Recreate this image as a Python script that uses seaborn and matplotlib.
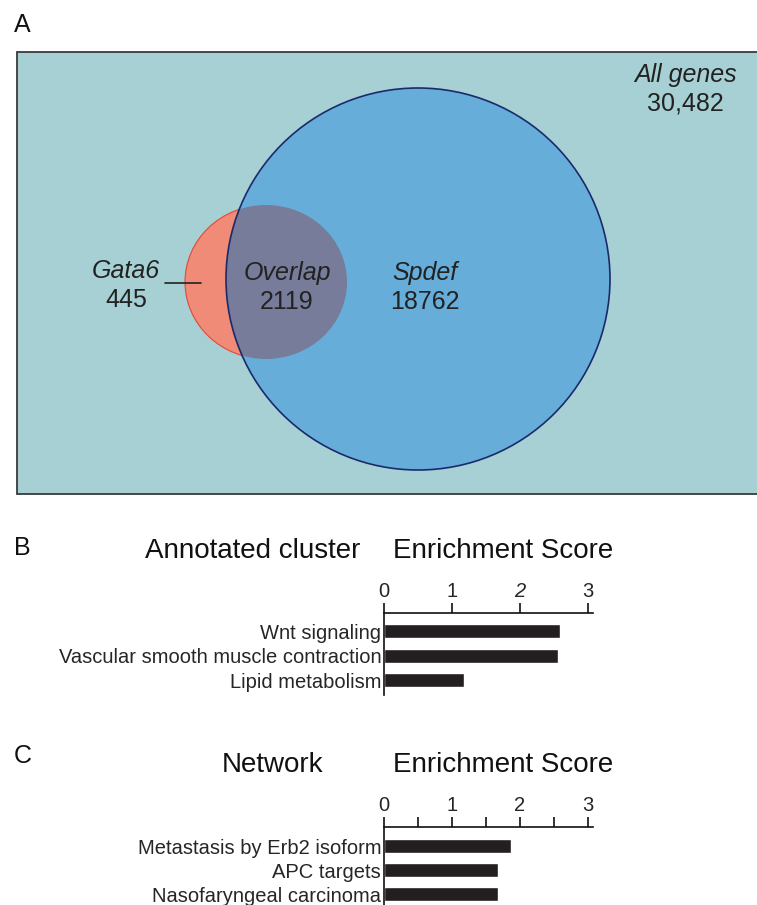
import matplotlib
matplotlib.use('Agg')
import matplotlib.pyplot as plt
import matplotlib.patches as mpatches
import seaborn as sns
import pandas as pd

sns.set_style('white')
plt.rcParams['font.family'] = ['Liberation Sans Narrow', 'Liberation Sans', 'DejaVu Sans']

# Venn counts
venn_names = ['Gata6', 'Overlap', 'Spdef']
venn_counts = [445, 2119, 18762]
all_genes = '30,482'

# Panel B
cluster_terms = ['Wnt signaling', 'Vascular smooth muscle contraction', 'Lipid metabolism']
cluster_scores = [2.59, 2.56, 1.17]

# Panel C
network_terms = ['Metastasis by Erb2 isoform', 'APC targets', 'Nasofaryngeal carcinoma']
network_scores = [1.87, 1.68, 1.68]

W, H = 757, 905
fig = plt.figure(figsize=(W / 100, H / 100), dpi=100)

# ---- Panel A: Venn diagram drawn in pixel coordinates
axA = fig.add_axes([0, 0, 1, 1])
axA.set_xlim(0, W)
axA.set_ylim(H, 0)
axA.axis('off')

axA.add_patch(mpatches.Rectangle((17, 52), 760, 442, facecolor='#a6d0d4',
                                 edgecolor='#3a3a3a', linewidth=1.3))
gata = dict(xy=(266, 282), width=162, height=154)
spdef = dict(xy=(418, 279), width=384, height=382)
axA.add_patch(mpatches.Ellipse(**gata, facecolor='#f08b77', edgecolor='#e04a3a', linewidth=0.8))
sp_fill = mpatches.Ellipse(**spdef, facecolor='#66add9', edgecolor='none')
axA.add_patch(sp_fill)
ov = mpatches.Ellipse(**gata, facecolor='#767c99', edgecolor='none')
axA.add_patch(ov)
ov.set_clip_path(sp_fill)
axA.add_patch(mpatches.Ellipse(**spdef, facecolor='none', edgecolor='#1b2a6b', linewidth=1.2))

vfs = 18
axA.text(686, 75, 'All genes', style='italic', fontsize=vfs, ha='center', va='center', color='#222222')
axA.text(685, 104, all_genes, fontsize=vfs, ha='center', va='center', color='#222222')
label_pos = [(126, 271), (287, 273), (425, 273)]
for (x, y), name, n in zip(label_pos, venn_names, venn_counts):
    axA.text(x, y, name, style='italic', fontsize=vfs, ha='center', va='center', color='#222222')
    axA.text(x, y + 29, str(n), fontsize=vfs, ha='center', va='center', color='#222222')
axA.plot([165, 201], [283, 283], color='#222222', linewidth=1.2)

for lab, y in [('A', 25), ('B', 548), ('C', 756)]:
    axA.text(14, y, lab, fontsize=18, ha='left', va='center', color='#111111')

tfs = 20
axA.text(253, 551, 'Annotated cluster', fontsize=tfs, ha='center', va='center', color='#111111')
axA.text(503, 551, 'Enrichment Score', fontsize=tfs, ha='center', va='center', color='#111111')
axA.text(273, 765, 'Network', fontsize=tfs, ha='center', va='center', color='#111111')
axA.text(503, 765, 'Enrichment Score', fontsize=tfs, ha='center', va='center', color='#111111')


def bar_panel(terms, scores, top, bottom, first, step, ticks, italic_two):
    x0, x1 = 384, 593
    ax = fig.add_axes([x0 / W, 1 - bottom / H, (x1 - x0) / W, (bottom - top) / H])
    df = pd.DataFrame({'term': terms, 'score': scores})
    sns.barplot(data=df, x='score', y='term', color='#231f20', width=14 / step,
                saturation=1, ax=ax)
    ax.set_xlim(0, (x1 - x0) / 68)
    ax.set_ylim(2 + (bottom - first - 2 * step) / step, -(first - top) / step)
    ax.set_xlabel('')
    ax.set_ylabel('')
    for s in ['bottom', 'right']:
        ax.spines[s].set_visible(False)
    for s in ['top', 'left']:
        ax.spines[s].set_color('#111111')
        ax.spines[s].set_linewidth(1.2)
    ax.xaxis.tick_top()
    ax.set_xticks(ticks)
    ax.set_xticklabels([str(int(t)) if float(t).is_integer() else '' for t in ticks])
    ax.tick_params(axis='x', direction='out', length=7, width=1.2, color='#111111',
                   labelsize=14.5, pad=2)
    ax.tick_params(axis='y', length=0, labelsize=14.5, pad=2)
    if italic_two:
        for t in ax.get_xticklabels():
            if t.get_text() == '2':
                t.set_style('italic')
    return ax


bar_panel(cluster_terms, cluster_scores, 613, 695, 631, 24.5, [0, 1, 2, 3], True)
bar_panel(network_terms, network_scores, 827, 905, 846, 24, [0, 0.5, 1, 1.5, 2, 2.5, 3], False)

fig.savefig('out.png', dpi=100)
